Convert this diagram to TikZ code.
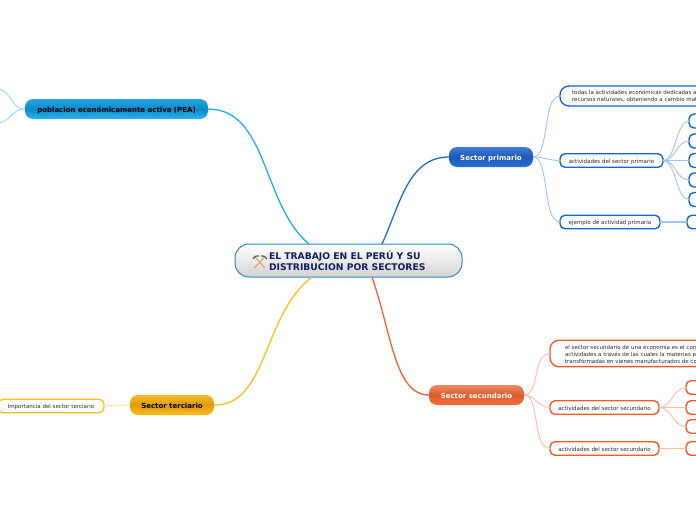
\documentclass[tikz,border=0pt]{standalone}
\usepackage{fontspec}
\setmainfont{DejaVu Sans}
\definecolor{cenedge}{HTML}{2A86C4}
\definecolor{navy}{HTML}{0F1F5F}
\definecolor{linkc}{HTML}{1AB0F0}
\definecolor{linkp}{HTML}{1C6CD8}
\definecolor{linko}{HTML}{F4602E}
\definecolor{linky}{HTML}{FFBE1A}
\definecolor{pblue}{HTML}{1565D0}
\definecolor{lpblue}{HTML}{A0C4F4}
\definecolor{ored}{HTML}{F4592A}
\definecolor{lored}{HTML}{FCBCA2}
\definecolor{yel}{HTML}{FFBE1A}
\definecolor{lyel}{HTML}{FFE8B0}
\definecolor{lcblue}{HTML}{90DCF8}
\definecolor{ink}{HTML}{2A2A2A}
\definecolor{peaT}{HTML}{25A6E2}\definecolor{peaM}{HTML}{0B8ACB}\definecolor{peaB}{HTML}{2CB6EE}
\definecolor{prT}{HTML}{3F7FD8}\definecolor{prM}{HTML}{1C58B6}\definecolor{prB}{HTML}{2A72DC}
\definecolor{seT}{HTML}{EE8A64}\definecolor{seM}{HTML}{DD5A30}\definecolor{seB}{HTML}{F4703E}
\definecolor{teT}{HTML}{F6BC28}\definecolor{teM}{HTML}{DE9B0A}\definecolor{teB}{HTML}{FFBE1A}
\tikzset{
 x=1pt,y=-1pt,
 every node/.style={inner sep=0pt,outer sep=0pt},
 centralbox/.style={draw=cenedge,line width=1pt,rounded corners=14pt,top color=white,bottom color=black!18,middle color=black!8},
 mainbox/.style={rounded corners=8pt,font=\bfseries\fontsize{7}{9}\selectfont,text height=7pt,text depth=0pt},
 peabox/.style={mainbox,top color=peaT,bottom color=peaB,middle color=peaM,text=black},
 primbox/.style={mainbox,top color=prT,bottom color=prB,middle color=prM,text=white},
 secbox/.style={mainbox,top color=seT,bottom color=seB,middle color=seM,text=white},
 terbox/.style={mainbox,top color=teT,bottom color=teB,middle color=teM,text=black},
 subbox/.style={draw=#1,line width=1.4pt,fill=white,rounded corners=5pt},
 bigbox/.style={draw=#1,line width=1.4pt,fill=white,rounded corners=9pt},
 subtext/.style={font=\fontsize{5.5}{6.9}\selectfont,text=ink},
 subline/.style={subtext,text height=5.5pt,text depth=0pt},
 mainlink/.style={line width=1.3pt},
 sublink/.style={line width=.9pt},
}
\begin{document}
\begin{tikzpicture}
\path[use as bounding box] (0,0) rectangle (696,520);
\clip (0,0) rectangle (696,520);
% central
\node[centralbox,minimum width=227pt,minimum height=33pt] (central) at (348.5,260.5) {};
\node[anchor=west,align=left,font=\bfseries\fontsize{9.2}{11.2}\selectfont,text=navy] (title) at (269,261) {EL TRABAJO EN EL PERÚ Y SU\\DISTRIBUCION POR SECTORES};
% main topics
\node[peabox,minimum width=183pt,minimum height=20pt] (pea) at (116.5,109) {poblacion económicamente activa (PEA)};
\node[primbox,minimum width=84pt,minimum height=20pt] (prim) at (491,157) {Sector primario};
\node[secbox,minimum width=95pt,minimum height=20pt] (sec) at (476.5,395) {Sector secundario};
\node[terbox,minimum width=84pt,minimum height=20pt] (ter) at (172,405) {Sector terciario};
% primary children
\node[bigbox=pblue,minimum width=200pt,minimum height=20pt] (p1) at (660,96) {};
\node[subtext,anchor=west,align=left] (p1t) at (572,96.5) {todas la actividades económicas dedicadas a\\recursos naturales, obteniendo a cambio mat};
\node[subbox=pblue,subline,minimum width=103pt,minimum height=13.5pt] (p2) at (611.5,160.5) {actividades del sector primario};
\node[subbox=pblue,subline,minimum width=100pt,minimum height=13.5pt] (p3) at (610,222) {ejemplo de actividad primaria};
\node[subbox=pblue,minimum width=40pt,minimum height=14pt] (a1) at (709,121) {};
\node[subbox=pblue,minimum width=40pt,minimum height=14pt] (a2) at (709,141) {};
\node[subbox=pblue,minimum width=40pt,minimum height=14pt] (a3) at (709,160.5) {};
\node[subbox=pblue,minimum width=40pt,minimum height=14pt] (a4) at (709,180) {};
\node[subbox=pblue,minimum width=40pt,minimum height=14pt] (a5) at (709,199.5) {};
\node[subbox=pblue,minimum width=40pt,minimum height=13.5pt] (a6) at (707,222) {};
% secondary children
\node[bigbox=ored,minimum width=220pt,minimum height=26.5pt] (s1) at (660,353.5) {};
\node[subtext,anchor=west,align=left] (s1t) at (565,354) {el sector secundario de una economía es el con\\actividades a través de las cuales la materias p\\transformadas en vienes manufacturados de co};
\node[subbox=ored,subline,minimum width=109pt,minimum height=13.5pt] (s2) at (604.5,407.5) {actividades del sector secundario};
\node[subbox=ored,subline,minimum width=109pt,minimum height=13.5pt] (s3) at (604.5,448.5) {actividades del sector secundario};
\node[subbox=ored,minimum width=40pt,minimum height=13.5pt] (b1) at (706,387.5) {};
\node[subbox=ored,minimum width=40pt,minimum height=13.5pt] (b2) at (706,407.5) {};
\node[subbox=ored,minimum width=40pt,minimum height=13.5pt] (b3) at (706,426.5) {};
\node[subbox=ored,minimum width=40pt,minimum height=13.5pt] (b4) at (706,448.5) {};
% tertiary child
\node[subbox=yel,subline,minimum width=106pt,minimum height=13.5pt] (t1) at (51,406) {Importancia del sector terciario};
% free ends
\coordinate (f1) at (-4,89);
\coordinate (f2) at (-4,123);
\coordinate (cpea) at (309,244);
\coordinate (cprim) at (382,244);
\coordinate (csec) at (372,277);
\coordinate (cter) at (312,277);
% main links
\draw[linkc,mainlink] (pea.east) .. controls (268,109) and (262,205) .. (cpea);
\draw[linkp,mainlink] (prim.west) .. controls (408,157) and (400,205) .. (cprim);
\draw[linko,mainlink] (sec.west) .. controls (395,395) and (392,335) .. (csec);
\draw[linky,mainlink] (ter.east) .. controls (268,406) and (262,315) .. (cter);
% sub links
\draw[lcblue,sublink] (pea.west) .. controls (10,109) and (12,89) .. (f1);
\draw[lcblue,sublink] (pea.west) .. controls (10,109) and (12,123) .. (f2);
\draw[lpblue,sublink] (prim.east) .. controls (550,157) and (542,96) .. (p1.west);
\draw[lpblue,sublink] (prim.east) .. controls (545,157) and (548,160.5) .. (p2.west);
\draw[lpblue,sublink] (prim.east) .. controls (550,157) and (542,222) .. (p3.west);
\foreach \t in {a1,a2,a3,a4,a5}{\draw[lpblue,sublink] (p2.east) .. controls +(13,0) and ([xshift=-13pt]\t.west) .. (\t.west);}
\draw[lpblue,line width=1.3pt] (p3.east) -- (a6.west);
\draw[lored,sublink] (sec.east) .. controls (540,395) and (532,353.5) .. (s1.west);
\draw[lored,sublink] (sec.east) .. controls (535,395) and (538,407.5) .. (s2.west);
\draw[lored,sublink] (sec.east) .. controls (540,395) and (532,448.5) .. (s3.west);
\foreach \t in {b1,b2,b3}{\draw[lored,sublink] (s2.east) .. controls +(13,0) and ([xshift=-13pt]\t.west) .. (\t.west);}
\draw[lored,line width=1.3pt] (s3.east) -- (b4.west);
\draw[lyel,line width=1.3pt] (ter.west) -- (t1.east);
% icon: crossed hammer and pick
\draw[line width=1.2pt,draw=brown!60!orange!70!white] (254.5,256.5) -- (265,268);
\draw[line width=1.2pt,draw=brown!60!orange!70!white] (265,256.5) -- (254.5,268);
\draw[line width=1.3pt,draw=black!60] (253,259) .. controls (255,255.5) and (258,255.5) .. (259,256);
\draw[line width=1.3pt,draw=black!60] (261,256) .. controls (263,255.5) and (265,256) .. (267,259);
\end{tikzpicture}
\end{document}
